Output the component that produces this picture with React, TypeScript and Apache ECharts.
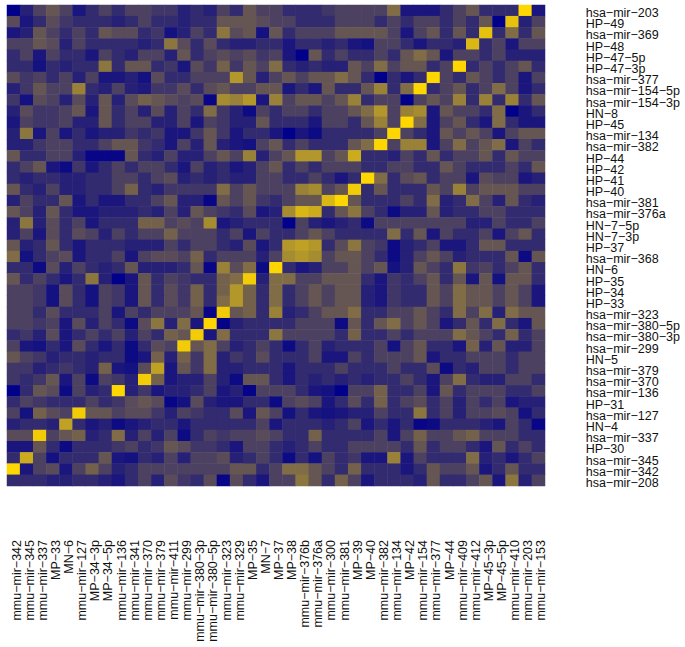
import React, { useEffect, useRef } from "react";
import * as echarts from "echarts";

const columnLabels = ["mmu−mir−342","mmu−mir−345","mmu−mir−337","MP−33","MN−6","mmu−mir−127","MP−34−3p","MP−34−5p","mmu−mir−136","mmu−mir−341","mmu−mir−370","mmu−mir−379","mmu−mir−411","mmu−mir−299","mmu−mir−380−3p","mmu−mir−380−5p","mmu−mir−323","mmu−mir−329","MP−35","MN−7","MP−37","MP−38","mmu−mir−376b","mmu−mir−376a","mmu−mir−300","mmu−mir−381","MP−39","MP−40","mmu−mir−382","mmu−mir−134","MP−42","mmu−mir−154","mmu−mir−377","MP−44","mmu−mir−409","mmu−mir−412","MP−45−3p","MP−45−5p","mmu−mir−410","mmu−mir−203","mmu−mir−153"];
const rowLabels = ["hsa−mir−203","HP−49","hsa−mir−369","HP−48","HP−47−5p","HP−47−3p","hsa−mir−377","hsa−mir−154−5p","hsa−mir−154−3p","HN−8","HP−45","hsa−mir−134","hsa−mir−382","HP−44","HP−42","HP−41","HP−40","hsa−mir−381","hsa−mir−376a","HN−7−5p","HN−7−3p","HP−37","hsa−mir−368","HN−6","HP−35","HP−34","HP−33","hsa−mir−323","hsa−mir−380−5p","hsa−mir−380−3p","hsa−mir−299","HN−5","hsa−mir−379","hsa−mir−370","hsa−mir−136","HP−31","hsa−mir−127","HN−4","hsa−mir−337","HP−30","hsa−mir−345","hsa−mir−342","hsa−mir−208"];

const r01 = [0,1.5,3,4,3,1,2,3,2,3,3,2.5,2.5,1.5,2,1.5,3,2,4,3, 3,2,2,2,2.5,3,3,3,3,5,1,1,1,2,3,4,2,2,2,10,1];
const r02 = [3.5,1,2,3.5,2.5,2,2,2,1.5,2,3,2,2,1.5,2,2,4,4,4,3.5, 3,3,2,2,2,3,3,3,2,3,2,3,3,2,3,2,4,0,9,1.5,3];
const r03 = [1,1.5,4,3,2,3,2,4,3.5,3.5,2,2.5,0.8,1.5,3,2,5.5,3.5,4,0.8, 4,2,3,3,3,4,4,4,4,3,1,3,4,2,4,2,9,2,5,2,4];
const r04 = [3,3,4,3.5,1.5,3,2,2,2,2,1.5,2,5.5,3.5,2,3.5,2,1.5,1.5,2, 2,1,2,2,1.5,2,1,0.8,3,3,2,1,2,2,1.5,8.5,2,3,1,3,3];
const r05 = [2,3,1,3,2,2,1,3,2,1.5,3,3,1.5,4,2,3,3.5,3,3.5,2.5, 3,1,0,4,2,3,2,2,3,2,4,5,4,1,3,3,2,3,1.5,1.5,1.5];
const r06 = [2,2,0.8,2,1.5,2,2,5.5,2,4,4,2,2.5,1,3.5,2.5,4.5,2.5,4,3, 5,2,1.5,2,1.5,1.5,4,3,5,3,4,4,2,3,10,2,3,2,3,4,2];
const r07 = [3.5,2.5,3,2,3,1.5,3,1,1,1.5,0.8,3.5,2,2,3,3,3,7,4,1.5, 3,4,3,4,4,5,4,2,0,2,1,2,10,3,2,4,3,2,3,1,3];
const r08 = [1.5,2.5,4,3,3,6,2,1.5,3,1.5,1.2,2.5,2.5,3.5,2,3.5,4,3,3,4, 4,1,2,1,4,2,2,4,6,2,5,10,2,3,4,2,3,5,3,1,2];
const r09 = [2.5,0.8,3.5,3,1.5,3.5,1.5,4,1.5,3.5,4.5,4,3.5,3,3.5,0.3,6.5,6,7,1, 6,3,4,4,3,4,6,2,3,3,0,3,4,3,6,2,6,2,6,2,4];
const r10 = [1.5,3.5,2.5,2.5,3,4,1,4,2,3,1.5,3.5,1.5,3,2,5,2.5,1.5,0.5,3, 2,3,3,2,3,3,4,5,7,3,6,6.5,1,4,3,3,2,5,0,1,2];
const r11 = [1,3,2.5,2.5,3,1.5,1.5,4,2,3,3,1.5,1.5,3,1,3,2.5,1.5,1.5,4, 2,2,2,1,3,3,2,4,6,3,10,5,1,3,4,2,1,5,2,1,1];
const r12 = [1.5,5.5,1,3,1,2,1,1.5,1.5,2.5,2,2.5,1,1,2.5,4,2.5,1,2,2, 1,0,1,0.5,2,2,2,2,3,10,3,2,1,4,3,4,3,1,3,4,4];
const r13 = [1.5,1.5,2.5,3,3,2,2,3,4,4,2.5,2,1,3,1.5,4,1.5,1,0.8,3, 4,2,3,2,2,2,4,5,10,3,6,6,1,3,5,3,4,5,1,3,2];
const r14 = [4,2,2,3,3,1.5,0.3,0.3,0.3,4,2,1.5,3,1.5,1.5,3,4,3,6,1.5, 3,4,7,7,3,4,8,2,2,1.5,3,2,4,2,3,3,4,2,4,3,3];
const r15 = [2,3,4,1,0.5,2.5,1,2,3,2,3,3,2,1,3,1.5,2,1,1.5,3, 4,2,3,2,3,3,3,2,2,3,3,2,2,4,3,2,2,2,3,2,4];
const r16 = [2,1.5,2,2,1.5,1.5,2,2,3,3,2,3,3.5,1.5,2,1.5,2,1.5,1.5,3, 3,2,2,3,2,1,2,10,5,2,3.5,4,2,3,3,1,3.5,3,3,1,1.5];
const r17 = [4,2,1.5,3,1.5,1.5,2,2,3,4.5,2,1.5,2.5,2.5,2.5,2.5,5,3,4,3, 3,3,6,6.5,3,4,9.5,2,4,2,2,2,4,3,6,3,4,4,4,3,3];
const r18 = [1.5,3,2,2,4,1,2,1,1,2,2,3,4,1.5,1.5,0.3,4,3,4,2.5, 2,3,4,4,8.5,10,4,2,2,2,3,2,5,1.5,2,5,3,1.5,4,2,1.5];
const r19 = [4,3,1.5,4,2,1,1,1.5,1.5,1.5,2,1.5,3,1.5,4,3,2.5,2,3.5,1, 1.5,6.5,8.5,8,2,4,5.5,3,2,0.5,1.5,1.5,4,1.5,2,2,3,3,2,2,2];
const r20 = [1.5,5.5,1.5,3.5,2,3,1,2,2,2,4.5,4.5,3,3.5,3,6.5,1,1.5,2,2, 2,0,3,1.5,1,1.5,2,0.5,3,3,3,3,3,3,3,1.5,1.5,3,2,2,3];
const r21 = [1.5,3,1,3.5,2,3.5,3,1.5,3,2,3,3,4.5,3,3,3,2,3,1,3, 2,2,3,4,3,2,2,2,2,5,2,4,1,3,2,2,3,1,3,4,2];
const r22 = [4,1.5,2,4,2,1,2,2,2,1.5,1.5,1.5,3,2,3,3,2,1.5,3.5,1, 2,7,7.5,7,2,3.5,5.5,3,2.5,0.5,1.5,2,3,1,1,2,4,4,2,2,2];
const r23 = [5,0.8,2,3,3.5,1,2,2,3,1,3,3.5,3.5,3,4.5,2,3,3,3,1.5, 3,6.5,7,6.5,3,4,4,3,2,0.5,1.5,3,4,3,1.5,2,2,2,4,0.5,4];
const r24 = [2,2,0.5,3.5,1.5,3,2,1.5,2,4,1.5,1.5,1.5,2,4,0.3,6,3.5,5,0.5, 10,2,1,1.5,3,3,4,3,4,0.8,1.5,4,3,2,5.5,2.5,3,2,3,4,2];
const r25 = [4,2,3,2,1,2,5.5,1.5,0,1,4,2,3,2.5,2,2,4.5,5,9.5,1.5, 5,5,3,3,4,4,4,2,1,2.5,2,3,4,2,4,1,4,0.8,4,4,2];
const r26 = [3,3,2.5,0.8,3.5,2,0.8,3,2.5,1,4,2,3.5,2.5,4.5,2,4.5,7,4.5,2, 5,2,3,4,3,4,4,1.5,1,2.5,2,2,4,3,5,4,4,3,4,3,1];
const r27 = [3,3,2.5,0.8,3.5,2,0.8,3,2.5,1,4,2,3.5,2.5,4.5,2,5,7,4.5,2, 5,2,3,4,3,4,4,1.5,1,2.5,2,2,4,3,5,4,4,3,4,3,1];
const r28 = [3,3,2,3.5,2,2,2,3,1,3,2,3,3,3,4,0.3,9.5,4,4.5,2, 6,1.5,2,3,4,4,5,2,2,3,3,4,3,2,5,3,5,1.5,5,4,4];
const r29 = [3,3,2.5,3,1,3.5,1.5,3,2,0.5,3.5,5.5,1.5,5,1,10,0.2,1.5,2,2, 2,2,3,3,3,0.5,4,2,4,5,3,4,3,1,2,4,2,5,2,1,4];
const r30 = [2,2.5,1.5,3.5,1,2,3,2,3,1.5,3,2,4.5,4,9.5,1,5,2,2,2, 5.5,3,3,3,3,2,4.5,2,2,3,2,3,3,3,5,4,3,2,4.5,2,3];
const r31 = [3,1,0.8,2,1,3.5,2,1,2,0.5,2,3.5,3,9.5,4,5,3,1.5,2,3, 2,0.5,2,3,1.5,2,2,2,3,0.8,3,4,2,2,1,4.5,1.5,4,1.5,1.5,3];
const r32 = [4,3,2.5,1.5,2,2,1.5,2,2,0.5,1,4.5,1.5,4.5,2.5,5,1.5,2.5,2,3.5, 2,2,2,3,1,1,3,2,3,3,3,4,1,2,2,3,3,3,2,3,3];
const r33 = [2.5,2.5,1.5,2,2.5,2,1.5,4.5,1,0.8,3.5,7.5,1,4,2.5,5,1.5,1.5,2,2, 2,1,2,2,2,3,2,2,2,3,2,2,3.5,0.5,2,1.5,3,3,2,3,3];
const r34 = [2.5,2,2.5,4,1,3,0.5,3,2.5,1.5,9.5,4.5,1,1.5,1.5,3,1.5,0.5,4,4, 2,1,2,1.5,2,1.5,2,1.5,2,2,3,2,1,3,5,2,1.5,1.5,3,3,2];
const r35 = [0,2,4,3.5,0.5,3,1.5,2,10,1.5,2.5,1,1.5,1.5,2,3,1,1.5,0.2,3, 3,3,2,1,0.8,0,3,3,4.5,2,2,3,1,4,2,3,3,3,2,2,3];
const r36 = [2,3,2.5,2,2,2,3,2,2.5,3.5,4,3.5,0.3,0.8,3.5,1.5,1,1,2,2, 0.5,3,3.5,3,1,2,3.5,2,4.5,2,3,3.5,2,3,1.5,3,2,3,1,1.5,1.5];
const r37 = [3,0.8,4.5,3.5,3,9.5,4,4,3,3.5,3.5,2.5,1.5,3,2.5,2,2,3.5,1,4, 3,0.8,2,1,0.8,1,1.5,1.5,3,2,2,5.5,2,3,1.5,3,3,3.5,3,0.8,2];
const r38 = [1.5,2,2,1.5,7.5,2,1,1.5,0.5,1,1.5,2,2,1,2,2,2,2,2,3, 1,2,2,2,1.5,2,3,1,2,1,2,0.3,0.5,2,2,2,1.5,1,3,2,0.3];
const r39 = [3.5,3.5,9.5,3,4,4.5,1.5,2,5,1.5,3,1.5,3,0.5,2,3,2.5,3,3,3.5, 3,2,2,4.5,2,2,2,2,3,1,3,4.5,3,3,4,4.5,3,3,3,2,2];
const r40 = [1,1,4,2,0.5,2,2,2,2.5,3,2,2.5,4,3.5,2.5,2.5,2,1,3,3, 2,1.5,2,3,2,2,3,3,3,3,2,4,2,3,3,2,1,4,2,3,2];
const r41 = [2,8,3,0.8,2,2,2,4,1,0.8,2,1.5,3,1.5,3,3,3.5,1.5,2,3, 2,0.5,2,0.8,3,2,2.5,1,1,6,1,3,2,2,2,5,1.5,2,1,2,3];
const r42 = [10,1,3,3.5,1,3,4.5,3,1.5,2,3,3,3,3,3,3,3,4,4,2, 3,5,5,4,3,2,4.5,2,2,2,1,2,4,3,3,4,1,2,4,2,2];
const r43 = [2,2,2,1.5,1.5,2,2,1.5,1,2,3,1.5,3.5,2.5,2,3.5,0.3,3.5,2,1, 3,3,5.5,4,2,4.5,3,1,2,2,2,1.5,4,2,2,3,4,1,5.5,1.5,3];

const matrix = [r01,r02,r03,r04,r05,r06,r07,r08,r09,r10,r11,r12,r13,r14,r15,r16,r17,r18,r19,r20,r21,r22,r23,r24,r25,r26,r27,r28,r29,r30,r31,r32,r33,r34,r35,r36,r37,r38,r39,r40,r41,r42,r43];

export default function App() {
  const ref = useRef<HTMLDivElement>(null);
  useEffect(() => {
    const chart = echarts.init(ref.current!, undefined, { renderer: "svg" });
    const data: number[][] = [];
    matrix.forEach((row, y) => row.forEach((v, x) => data.push([x, y, v])));
    const font = { fontFamily: "Liberation Sans", fontSize: 12.5, color: "#111111" };
    const hidden = {
      axisLine: { show: false },
      axisTick: { show: false },
      splitLine: { show: false },
    };
    chart.setOption({
      animation: false,
      backgroundColor: "#ffffff",
      tooltip: { show: false },
      grid: [
        { left: 7, top: 5, width: 538, height: 481 },
        // labels sit on a second, slightly shifted grid, as in the reference
        { left: 10, top: 7.5, width: 538, height: 481 },
      ],
      xAxis: [
        { type: "category", gridIndex: 0, data: columnLabels, show: false },
        {
          type: "category",
          gridIndex: 1,
          data: columnLabels,
          position: "bottom",
          ...hidden,
          axisLabel: { ...font, interval: 0, rotate: 90, margin: 51.5 },
        },
      ],
      yAxis: [
        { type: "category", gridIndex: 0, data: rowLabels, inverse: true, show: false },
        {
          type: "category",
          gridIndex: 1,
          data: rowLabels,
          inverse: true,
          position: "right",
          ...hidden,
          axisLabel: { ...font, interval: 0, margin: 37.7 },
        },
      ],
      visualMap: {
        show: false,
        type: "continuous",
        min: 0,
        max: 10,
        dimension: 2,
        seriesIndex: 0,
        inRange: { color: ["#00008B", "#FFD700"] },
      },
      series: [
        {
          type: "heatmap",
          xAxisIndex: 0,
          yAxisIndex: 0,
          data,
          progressive: 0,
          emphasis: { disabled: true },
          itemStyle: { borderWidth: 0 },
        },
      ],
    });
    return () => chart.dispose();
  }, []);
  return <div ref={ref} style={{ position: "absolute", left: 0, top: 0, width: 685, height: 647 }} />;
}
